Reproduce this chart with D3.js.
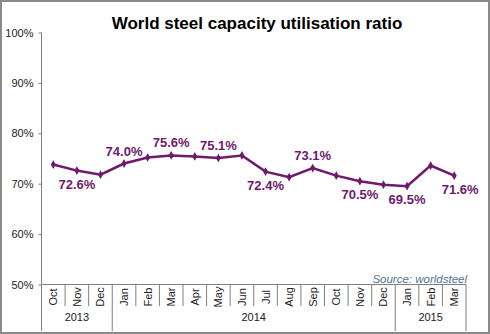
<!DOCTYPE html>
<html>
<head>
<meta charset="utf-8">
<script src="https://cdn.jsdelivr.net/npm/d3@7"></script>
<style>
  body { margin: 0; background: #fff; }
  svg { display: block; font-family: "Liberation Sans", Arial, sans-serif; }
</style>
</head>
<body>
<script>
// data
const months = ["Oct", "Nov", "Dec", "Jan", "Feb", "Mar", "Apr", "May", "Jun",
                "Jul", "Aug", "Sep", "Oct", "Nov", "Dec", "Jan", "Feb", "Mar"];
const years = ["2013", "2013", "2013", "2014", "2014", "2014", "2014", "2014", "2014",
               "2014", "2014", "2014", "2014", "2014", "2014", "2015", "2015", "2015"];
const ratio = [73.8, 72.6, 71.8, 74.0, 75.2, 75.6, 75.4, 75.1, 75.6,
               72.4, 71.3, 73.1, 71.6, 70.5, 69.8, 69.5, 73.6, 71.6];
// which points get a value label, and where (above / below)
const labelled = { 1: "below", 3: "above", 5: "above", 7: "above", 9: "below",
                   11: "above", 13: "below", 15: "below", 17: "below" };
const yTicks = [50, 60, 70, 80, 90, 100];
const yearGroups = ["2013", "2014", "2015"];

function main() {
    let svg = d3.select("body").append("svg")
        .attr("width", 490)
        .attr("height", 334);

    // grey frame
    svg.append("rect")
        .attr("x", 1).attr("y", 1)
        .attr("width", 488).attr("height", 332)
        .attr("fill", "#fff")
        .attr("stroke", "#8a8a8a")
        .attr("stroke-width", 2);

    svg.append("text")
        .attr("x", 257).attr("y", 29)
        .attr("text-anchor", "middle")
        .style("font-size", "17px")
        .style("font-weight", "bold")
        .text("World steel capacity utilisation ratio");

    let idx = d3.range(months.length);
    let x = d3.scaleBand().domain(idx).range([41.5, 466]);
    let y = d3.scaleLinear().domain([50, 100]).range([284.5, 32.5]);

    let axisCol = "#7f7f7f";

    // y axis
    let yaxis = d3.axisLeft(y).tickValues(yTicks).tickSize(3)
        .tickFormat(d => d + "%");
    let gy = svg.append("g").attr("transform", "translate(41.5,0)").call(yaxis);
    gy.select(".domain").attr("stroke", axisCol).attr("d", "M0,32.5V284.5");
    gy.selectAll(".tick line").attr("stroke", axisCol);
    gy.selectAll(".tick text")
        .attr("x", -8)
        .style("font-family", "Liberation Sans, Arial, sans-serif")
        .style("font-size", "11px")
        .attr("fill", "#222");

    // x axis: baseline and category separators
    svg.append("line")
        .attr("x1", 41.5).attr("x2", 466)
        .attr("y1", y(50)).attr("y2", y(50))
        .attr("stroke", axisCol);

    let bounds = d3.range(months.length + 1);
    svg.selectAll(".sep").data(bounds).enter().append("line")
        .attr("x1", i => i < months.length ? x(i) : x.range()[1])
        .attr("x2", i => i < months.length ? x(i) : x.range()[1])
        .attr("y1", y(50))
        .attr("y2", i => (i === 0 || i === months.length || years[i] !== years[i - 1]) ? 331 : 306)
        .attr("stroke", axisCol);

    svg.selectAll(".month").data(idx).enter().append("text")
        .attr("transform", i => `translate(${x(i) + x.bandwidth() / 2 + 4},297) rotate(-90)`)
        .attr("text-anchor", "middle")
        .style("font-size", "11px")
        .attr("fill", "#222")
        .text(i => months[i]);

    svg.selectAll(".year").data(yearGroups).enter().append("text")
        .attr("x", g => {
            let first = years.indexOf(g), last = years.lastIndexOf(g);
            return (x(first) + x(last) + x.bandwidth()) / 2;
        })
        .attr("y", 321)
        .attr("text-anchor", "middle")
        .style("font-size", "11px")
        .attr("fill", "#222")
        .text(g => g);

    svg.append("text")
        .attr("x", 467).attr("y", 283)
        .attr("text-anchor", "end")
        .style("font-size", "11.5px")
        .style("font-style", "italic")
        .attr("fill", "#4f7391")
        .text("Source: worldsteel");

    // series
    let purple = "#6e1a6e";
    let line = d3.line()
        .x((d, i) => x(i) + x.bandwidth() / 2)
        .y(d => y(d));

    svg.append("path")
        .datum(ratio)
        .attr("d", line)
        .attr("fill", "none")
        .attr("stroke", purple)
        .attr("stroke-width", 2.5);

    svg.selectAll(".pt").data(ratio).enter().append("path")
        .attr("transform", (d, i) => `translate(${x(i) + x.bandwidth() / 2},${y(d)})`)
        .attr("d", d3.symbol(d3.symbolDiamond, 22))
        .attr("fill", purple);

    svg.selectAll(".lbl").data(Object.keys(labelled).map(Number)).enter().append("text")
        .attr("x", i => x(i) + x.bandwidth() / 2 + (i === 17 ? 6 : 0))
        .attr("y", i => labelled[i] === "above" ? y(ratio[i]) - 8 : y(ratio[i]) + 18)
        .attr("text-anchor", "middle")
        .style("font-size", "13px")
        .style("font-weight", "bold")
        .attr("fill", purple)
        .text(i => ratio[i].toFixed(1) + "%");
}

main();
</script>
</body>
</html>
